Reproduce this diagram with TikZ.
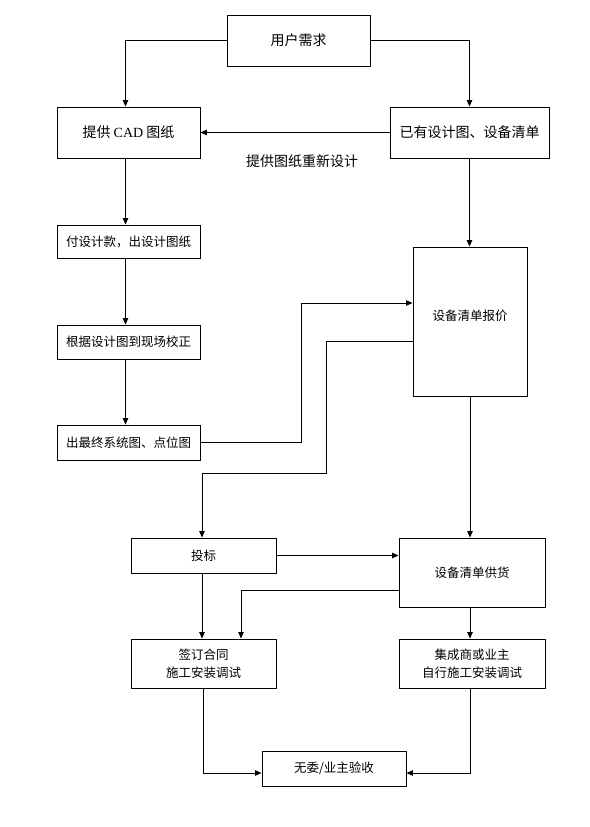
\documentclass[tikz,border=0pt]{standalone}
\usepackage{fontspec}
\setmainfont{Liberation Serif}
\newfontfamily\cjk{Noto Sans CJK SC}
\usetikzlibrary{arrows.meta}
\tikzset{
  box/.style={draw=black, line width=0.9pt, fill=white, inner sep=0pt, align=center,
    font=\cjk\fontsize{12.5}{18}\selectfont},
  bigbox/.style={box, font=\cjk\fontsize{14}{18}\selectfont},
  arr/.style={line width=0.9pt, -{Triangle[length=6.5pt,width=5.5pt]}},
  lbl/.style={font=\cjk\fontsize{14}{18}\selectfont, inner sep=0pt}
}
\begin{document}
\begin{tikzpicture}[x=1pt,y=1pt]
\useasboundingbox (0,0) rectangle (589,-827);
\fill[white] (0,0) rectangle (589,-827);
% nodes
\node[bigbox, minimum width=143pt, minimum height=51pt] (A) at (298.5,-40.5) {用户需求};
\node[bigbox, minimum width=143pt, minimum height=51pt] (B) at (128.5,-132.5) {提供 {\rmfamily CAD} 图纸};
\node[bigbox, minimum width=159pt, minimum height=51pt] (C) at (469.5,-132.5) {已有设计图、设备清单};
\node[box, minimum width=143pt, minimum height=33pt] (D) at (128.5,-241.5) {付设计款，出设计图纸};
\node[box, minimum width=143pt, minimum height=34pt] (E) at (128.5,-342) {根据设计图到现场校正};
\node[box, minimum width=143pt, minimum height=35pt] (F) at (128.5,-442.5) {出最终系统图、点位图};
\node[box, minimum width=114pt, minimum height=149pt] (G) at (470,-321.5) {};
\node[box, draw=none, fill=none] (Gt) at (470,-316) {设备清单报价};
\node[box, minimum width=145pt, minimum height=35pt] (H) at (203.5,-555.5) {投标};
\node[box, minimum width=146pt, minimum height=69pt] (I) at (472,-572.5) {设备清单供货};
\node[box, minimum width=145pt, minimum height=49pt] (J) at (203.5,-663.5) {签订合同\\施工安装调试};
\node[box, minimum width=146pt, minimum height=49pt] (K) at (472,-663.5) {集成商或业主\\自行施工安装调试};
\node[box, minimum width=144pt, minimum height=35pt] (L) at (334,-768.5) {无委/业主验收};
\node[lbl] (M) at (302,-161) {提供图纸重新设计};
% connectors
\draw[arr] (A.west) -| ([xshift=-3pt]B.north);
\draw[arr] (A.east) -| (C.north);
\draw[arr] (C.west) -- (B.east);
\draw[arr] ([xshift=-3pt]B.south) -- ([xshift=-3pt]D.north);
\draw[arr] ([xshift=-3pt]D.south) -- ([xshift=-3pt]E.north);
\draw[arr] ([xshift=-3pt]E.south) -- ([xshift=-3pt]F.north);
\draw[arr] (C.south) -- (C.south |- G.north);
\draw[arr] (F.east) -- ++(101,0) |- ([yshift=18.5pt]G.west);
\draw[arr] ([yshift=-19.5pt]G.west) -- ++(-86,0) -- ++(0,-132) -| ([xshift=-1.5pt]H.north);
\draw[arr] (G.south) -- (G.south |- I.north);
\draw[arr] (H.east) -- (H.east -| I.west);
\draw[arr] ([xshift=-1.5pt]H.south) -- ([xshift=-1.5pt]J.north);
\draw[arr] ([yshift=-17.5pt]I.west) -| ([xshift=37.5pt]J.north);
\draw[arr] ([xshift=-2pt]I.south) -- ([xshift=-2pt]K.north);
\draw[arr] (J.south) |- ([yshift=-4.5pt]L.west);
\draw[arr] ([xshift=-2pt]K.south) |- ([yshift=-4.5pt]L.east);
\end{tikzpicture}
\end{document}
